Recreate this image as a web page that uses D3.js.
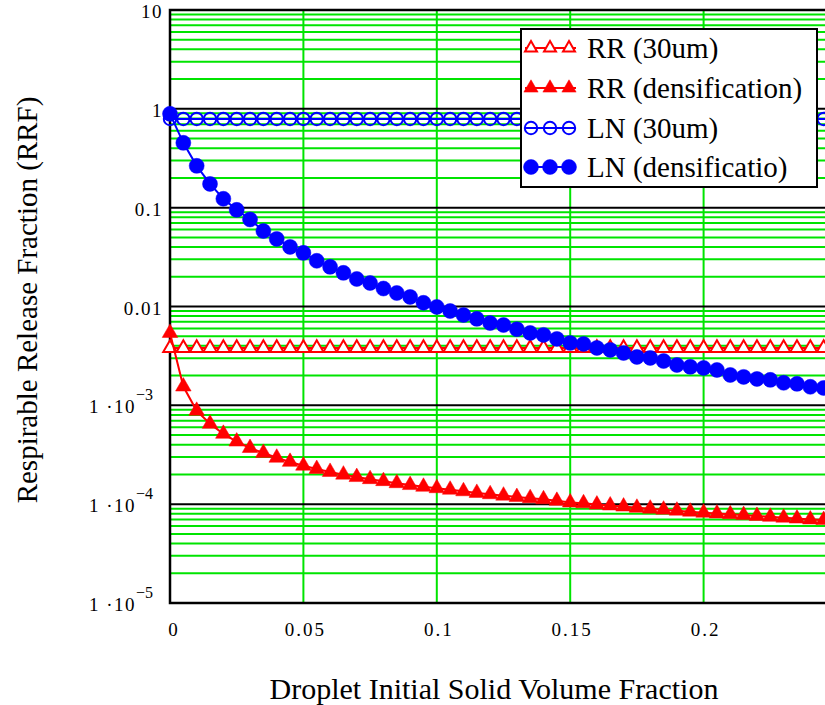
<!DOCTYPE html>
<html>
  <head>
    <style>
      body { margin: 0; background: #fff; }
      svg text { font-family: "Liberation Serif", "Times New Roman", serif; fill: #000; }
    </style>
  </head>
  <body>
    <div id="chart"></div>
    <script src="https://d3js.org/d3.v7.min.js"></script>
    <script>

      // droplet initial solid volume fraction (sample points)
      var xs = [0, 0.005, 0.01, 0.015, 0.02, 0.025, 0.03, 0.035, 0.04, 0.045,
                0.05, 0.055, 0.06, 0.065, 0.07, 0.075, 0.08, 0.085, 0.09, 0.095,
                0.1, 0.105, 0.11, 0.115, 0.12, 0.125, 0.13, 0.135, 0.14, 0.145,
                0.15, 0.155, 0.16, 0.165, 0.17, 0.175, 0.18, 0.185, 0.19, 0.195,
                0.2, 0.205, 0.21, 0.215, 0.22, 0.225, 0.23, 0.235, 0.24, 0.245, 0.25];

      var rr30 = [0.0038, 0.0038, 0.0038, 0.0038, 0.0038, 0.0038, 0.0038, 0.0038, 0.0038, 0.0038,
                  0.0038, 0.0038, 0.0038, 0.0038, 0.0038, 0.0038, 0.0038, 0.0038, 0.0038, 0.0038,
                  0.0038, 0.0038, 0.0038, 0.0038, 0.0038, 0.0038, 0.0038, 0.0038, 0.0038, 0.0038,
                  0.0038, 0.0038, 0.0038, 0.0038, 0.0038, 0.0038, 0.0038, 0.0038, 0.0038, 0.0038,
                  0.0038, 0.0038, 0.0038, 0.0038, 0.0038, 0.0038, 0.0038, 0.0038, 0.0038, 0.0038, 0.0038];

      var rrDens = [5.4e-3, 1.55e-3, 8.8e-4, 6.5e-4, 5.15e-4, 4.3e-4, 3.7e-4, 3.3e-4, 2.95e-4, 2.68e-4,
                    2.45e-4, 2.27e-4, 2.12e-4, 1.99e-4, 1.88e-4, 1.79e-4, 1.71e-4, 1.63e-4, 1.56e-4, 1.5e-4,
                    1.45e-4, 1.4e-4, 1.35e-4, 1.3e-4, 1.26e-4, 1.22e-4, 1.18e-4, 1.15e-4, 1.12e-4, 1.08e-4,
                    1.04e-4, 1.02e-4, 9.9e-5, 9.7e-5, 9.45e-5, 9.2e-5, 9.0e-5, 8.8e-5, 8.6e-5, 8.4e-5,
                    8.2e-5, 8.05e-5, 7.9e-5, 7.75e-5, 7.6e-5, 7.45e-5, 7.3e-5, 7.15e-5, 7.0e-5, 6.9e-5, 6.75e-5];

      var ln30 = [0.79, 0.79, 0.79, 0.79, 0.79, 0.79, 0.79, 0.79, 0.79, 0.79,
                  0.79, 0.79, 0.79, 0.79, 0.79, 0.79, 0.79, 0.79, 0.79, 0.79,
                  0.79, 0.79, 0.79, 0.79, 0.79, 0.79, 0.79, 0.79, 0.79, 0.79,
                  0.79, 0.79, 0.79, 0.79, 0.79, 0.79, 0.79, 0.79, 0.79, 0.79,
                  0.79, 0.79, 0.79, 0.79, 0.79, 0.79, 0.79, 0.79, 0.79, 0.79, 0.79];

      var lnDens = [0.89, 0.453, 0.265, 0.174, 0.123, 0.095, 0.076, 0.058, 0.0483, 0.0401,
                    0.0349, 0.029, 0.0252, 0.0219, 0.019, 0.0173, 0.0152, 0.0137, 0.0125, 0.0109,
                    0.0099, 0.009, 0.0082, 0.0075, 0.0068, 0.0065, 0.0059, 0.0054, 0.00516, 0.0047,
                    0.00428, 0.00418, 0.00381, 0.00364, 0.00339, 0.00309, 0.00302, 0.00281, 0.00256, 0.00245,
                    0.00239, 0.00228, 0.00203, 0.00194, 0.00185, 0.00181, 0.00169, 0.00165, 0.00154, 0.0015, 0.00145];

      var xTicks = [0, 0.05, 0.1, 0.15, 0.2];
      var xTickLabels = ["0", "0.05", "0.1", "0.15", "0.2"];
      var yDecades = [1e-5, 1e-4, 1e-3, 0.01, 0.1, 1, 10];
      var yTickLabels = [["1 \u00b710", "\u22125"], ["1 \u00b710", "\u22124"], ["1 \u00b710", "\u22123"],
                         ["0.01"], ["0.1"], ["1"], ["10"]];
      var legendNames = ["RR (30um)", "RR (densification)", "LN (30um)", "LN (densificatio)"];

      var W = 825, H = 705;
      var pLeft = 170, pTop = 10, pBottom = 603, pRight = 837;
      var green = "#00e400";

      var svg = d3.select("#chart").append("svg")
        .attr("width", W)
        .attr("height", H);

      svg.append("rect").attr("width", W).attr("height", H).attr("fill", "#fff");

      var x = d3.scaleLinear().domain([0, 0.25]).range([pLeft, pRight]);
      var y = d3.scaleLog().domain([1e-5, 10]).range([pBottom, pTop]);

      var plot = svg.append("g");

      // minor horizontal grid (2..9 in each decade)
      var minor = [];
      yDecades.slice(0, -1).forEach(function (d) {
        for (var k = 2; k <= 9; k++) minor.push(d * k);
      });
      plot.selectAll("line.minor").data(minor).enter().append("line")
        .attr("x1", pLeft).attr("x2", pRight)
        .attr("y1", function (d) { return y(d); })
        .attr("y2", function (d) { return y(d); })
        .attr("stroke", green).attr("stroke-width", 2);

      // vertical grid
      plot.selectAll("line.vgrid").data(xTicks.slice(1)).enter().append("line")
        .attr("x1", function (d) { return x(d); })
        .attr("x2", function (d) { return x(d); })
        .attr("y1", pTop).attr("y2", pBottom)
        .attr("stroke", green).attr("stroke-width", 2);

      // decade lines in black
      plot.selectAll("line.major").data(yDecades.slice(1, -1)).enter().append("line")
        .attr("x1", pLeft).attr("x2", pRight)
        .attr("y1", function (d) { return y(d); })
        .attr("y2", function (d) { return y(d); })
        .attr("stroke", "#000").attr("stroke-width", 2);

      // frame
      plot.append("rect")
        .attr("x", pLeft).attr("y", pTop)
        .attr("width", pRight - pLeft).attr("height", pBottom - pTop)
        .attr("fill", "none").attr("stroke", "#000").attr("stroke-width", 2.5);

      // tick labels
      svg.selectAll("text.xt").data(xTicks).enter().append("text")
        .attr("x", function (d) { return x(d) + (d === 0 ? 4 : 2); })
        .attr("y", 636)
        .attr("text-anchor", "middle")
        .style("font-size", "19px")
        .style("letter-spacing", "2px")
        .text(function (d, i) { return xTickLabels[i]; });

      var yt = svg.selectAll("text.yt").data(yDecades).enter().append("text")
        .attr("x", function (d, i) { return yTickLabels[i].length > 1 ? 153 : 163; })
        .attr("y", function (d) { return y(d) + 8; })
        .attr("text-anchor", "end")
        .style("font-size", "19px")
        .style("letter-spacing", "1.5px");
      yt.append("tspan").text(function (d, i) { return yTickLabels[i][0]; });
      yt.filter(function (d, i) { return yTickLabels[i].length > 1; })
        .append("tspan")
          .attr("dy", -13)
          .style("font-size", "16px")
          .style("letter-spacing", "0px")
          .text(function (d) { return yTickLabels[yDecades.indexOf(d)][1]; });

      // axis titles
      svg.append("text")
        .attr("x", 494).attr("y", 699)
        .attr("text-anchor", "middle")
        .style("font-size", "30px")
        .text("Droplet Initial Solid Volume Fraction");

      svg.append("text")
        .attr("transform", "translate(37,300) rotate(-90)")
        .attr("text-anchor", "middle")
        .style("font-size", "29px")
        .text("Respirable Release Fraction (RRF)");

      // series
      var series = [
        { vals: rr30, color: "red", shape: "tri", filled: false },
        { vals: rrDens, color: "red", shape: "tri", filled: true },
        { vals: ln30, color: "blue", shape: "circ", filled: false },
        { vals: lnDens, color: "blue", shape: "circ", filled: true }
      ];

      var line = d3.line()
        .x(function (d) { return x(d[0]); })
        .y(function (d) { return y(d[1]); });

      var triOpen = d3.symbol().type(d3.symbolTriangle).size(80);
      var triFill = d3.symbol().type(d3.symbolTriangle).size(105);

      function drawMarkers(g, s, pts) {
        if (s.shape === "tri") {
          g.selectAll("path.m").data(pts).enter().append("path")
            .attr("d", s.filled ? triFill : triOpen)
            .attr("transform", function (d) { return "translate(" + d[0] + "," + d[1] + ")"; })
            .attr("fill", s.filled ? s.color : "#fff")
            .attr("stroke", s.color)
            .attr("stroke-width", s.filled ? 0.5 : 2);
        } else {
          g.selectAll("circle.m").data(pts).enter().append("circle")
            .attr("cx", function (d) { return d[0]; })
            .attr("cy", function (d) { return d[1]; })
            .attr("r", s.filled ? 7.5 : 6.2)
            .attr("fill", s.filled ? s.color : "none")
            .attr("stroke", s.color)
            .attr("stroke-width", s.filled ? 0.5 : 2);
        }
      }

      series.forEach(function (s) {
        var data = xs.map(function (xv, i) { return [xv, s.vals[i]]; });
        var g = svg.append("g");
        g.append("path")
          .attr("d", line(data))
          .attr("fill", "none")
          .attr("stroke", s.color)
          .attr("stroke-width", 2);
        drawMarkers(g, s, data.map(function (d) { return [x(d[0]), y(d[1])]; }));
      });

      // legend
      var lg = svg.append("g");
      lg.append("rect")
        .attr("x", 521).attr("y", 29)
        .attr("width", 296).attr("height", 158)
        .attr("fill", "#fff").attr("stroke", "#000").attr("stroke-width", 2);

      var rowY = [48, 88, 128, 167];
      var legendTri = [d3.symbol().type(d3.symbolTriangle).size(62), d3.symbol().type(d3.symbolTriangle).size(88)];
      series.forEach(function (s, i) {
        var r = lg.append("g");
        r.append("line")
          .attr("x1", 525).attr("x2", 576)
          .attr("y1", rowY[i]).attr("y2", rowY[i])
          .attr("stroke", s.color).attr("stroke-width", 2);
        drawMarkers(r, s, [[531, rowY[i]], [550, rowY[i]], [569, rowY[i]]]);
        if (s.shape === "tri") {
          r.selectAll("path").attr("d", legendTri[s.filled ? 1 : 0]);
        }
        r.append("text")
          .attr("x", 587).attr("y", rowY[i] + 10)
          .style("font-size", "29px")
          .text(legendNames[i]);
      });

    </script>
  </body>
</html>
